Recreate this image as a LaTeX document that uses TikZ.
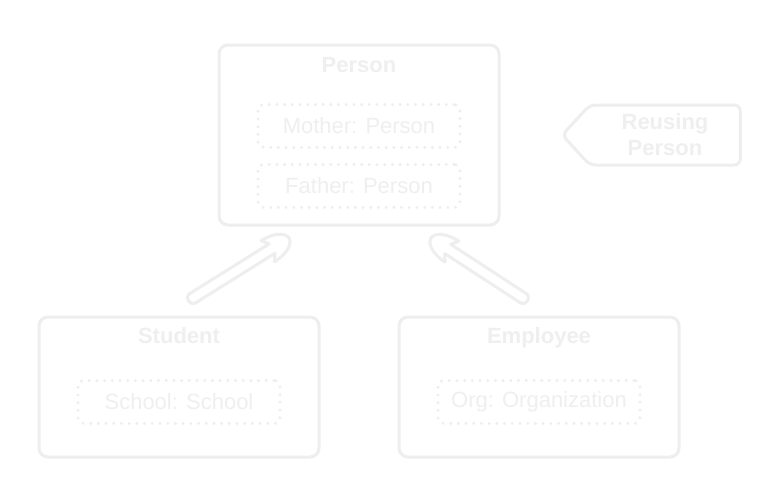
\documentclass[tikz,border=0pt]{standalone}
\usepackage{fontspec}
\setmainfont{Liberation Sans}
\usetikzlibrary{calc,shapes.symbols}
\definecolor{cl}{HTML}{EEEEEE}
\definecolor{ct}{HTML}{EFEFEF}
\newcommand\fatarr[2]{%
  \draw[arrline]
    ($(#1)!5.5pt!90:(#2)$) --
    ($(#2)!20pt!(#1)!5.5pt!-90:(#1)$) --
    ($(#2)!25pt!(#1)!12.5pt!-90:(#1)$) .. controls
    ($(#2)!9pt!(#1)!12.5pt!-90:(#1)$) and ($(#2)!6pt!-90:(#1)$) ..
    (#2) .. controls
    ($(#2)!6pt!90:(#1)$) and ($(#2)!9pt!(#1)!12.5pt!90:(#1)$) ..
    ($(#2)!25pt!(#1)!12.5pt!90:(#1)$) --
    ($(#2)!20pt!(#1)!5.5pt!90:(#1)$) --
    ($(#1)!5.5pt!-90:(#2)$) .. controls
    ($(#1)!-7.3pt!(#2)!5.5pt!-90:(#2)$) and ($(#1)!-7.3pt!(#2)!5.5pt!90:(#2)$) ..
    cycle;}
\begin{document}
\begin{tikzpicture}[x=1pt,y=-1pt,
  bigbox/.style={draw=cl, line width=3pt, rounded corners=9pt, minimum width=280pt, minimum height=180pt, inner sep=0pt},
  subbox/.style={draw=cl, line width=3.3pt, rounded corners=6pt, dash pattern=on 0pt off 7.7pt, line cap=round,
     minimum width=202pt, minimum height=43pt, inner sep=0pt, text=ct, font=\fontsize{22}{26}\selectfont},
  titletext/.style={text=ct, font=\fontsize{22}{26}\selectfont\bfseries, inner sep=0pt, anchor=base},
  arrline/.style={draw=cl, line width=3pt, fill=white, line join=round},
]
\useasboundingbox[fill=white] (0,0) rectangle (781,490);
% Person
\node[bigbox] (Person) at (359,135) {};
\node[titletext] (PersonT) at (359,72) {Person};
\node[subbox] (Mother) at (359,126) {Mother: Person};
\node[subbox] (Father) at (359,186) {Father: Person};
% Student
\node[bigbox, minimum height=140pt] (Student) at (179,387) {};
\node[titletext] (StudentT) at (179,343) {Student};
\node[subbox] (School) at (179,402) {School: School};
% Employee
\node[bigbox, minimum height=140pt] (Employee) at (539,387) {};
\node[titletext] (EmployeeT) at (539,343) {Employee};
\node[subbox] (Org) at (539,402) {Org: Organization};
% Reusing
\node[draw=cl, line width=3pt, rounded corners=6pt, shape=signal, signal to=west, signal pointer angle=95,
   minimum width=178pt, minimum height=60pt, inner sep=0pt, text=ct, align=center,
   font=\fontsize{22}{26}\selectfont\bfseries] (Reuse) at (665,135) {Reusing\\Person};
% arrows
\coordinate (sTail) at (193,298);
\coordinate (pTipL) at (289,238);
\coordinate (eTail) at (523,298);
\coordinate (pTipR) at (431,238);
\fatarr{sTail}{pTipL}
\fatarr{eTail}{pTipR}
\end{tikzpicture}
\end{document}
